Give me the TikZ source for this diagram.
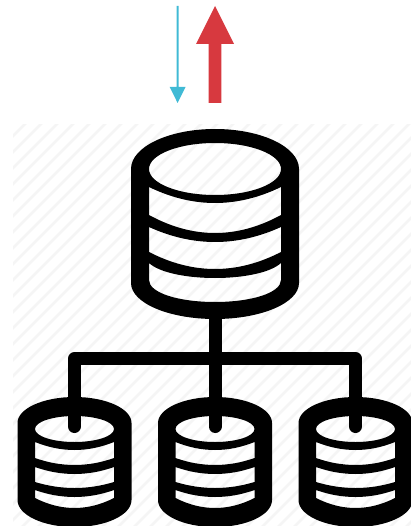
\documentclass[tikz,border=0pt]{standalone}
\definecolor{hatchgrey}{HTML}{F5F5F5}
\definecolor{upred}{HTML}{D7393F}
\definecolor{downblue}{HTML}{40BAD5}
% silhouette: cx rx ytop yside1 yside2 ybot
\newcommand{\cylOuter}[6]{
  (#1-#2,#4) .. controls (#1-#2,#4-0.5523*#4+0.5523*#3) and (#1-0.5523*#2,#3) .. (#1,#3)
  .. controls (#1+0.5523*#2,#3) and (#1+#2,#4-0.5523*#4+0.5523*#3) .. (#1+#2,#4)
  -- (#1+#2,#5) .. controls (#1+#2,#5+0.5523*#6-0.5523*#5) and (#1+0.5523*#2,#6) .. (#1,#6)
  .. controls (#1-0.5523*#2,#6) and (#1-#2,#5+0.5523*#6-0.5523*#5) .. (#1-#2,#5) -- cycle
}
% curved band: cx rx yside-top ycentre-top yside-bottom ycentre-bottom
\newcommand{\band}[6]{
  (#1-#2,#3) .. controls (#1-#2/3,#3+1.3333*#4-1.3333*#3) and (#1+#2/3,#3+1.3333*#4-1.3333*#3) .. (#1+#2,#3)
  -- (#1+#2,#5) .. controls (#1+#2/3,#5+1.3333*#6-1.3333*#5) and (#1-#2/3,#5+1.3333*#6-1.3333*#5) .. (#1-#2,#5) -- cycle
}
\newcommand{\smallCyl}[1]{
  \fill[iconblack,even odd rule]
    \cylOuter{#1}{57}{397}{423}{500}{527}
    (#1,429) ellipse [x radius=39.5,y radius=13]
    \band{#1}{39.5}{442}{450}{458}{465}
    \band{#1}{39.5}{467}{474}{482}{488}
    \band{#1}{39.5}{490}{497}{498}{508};
  \draw[iconblack,line width=13pt,line cap=round] (#1,400) -- (#1,426.5);
}
\tikzset{iconblack/.style={black}}
\begin{document}
\begin{tikzpicture}[x=1pt,y=-1pt]
\useasboundingbox (0,0) rectangle (411,526);
% hatched background
\begin{scope}
  \clip (13,125) rectangle (411,526);
  \foreach \k in {0,...,50}{
    \pgfmathsetmacro{\s}{149+16*\k}
    \draw[hatchgrey,line width=2.8pt] (\s,0) -- (0,\s);
  }
\end{scope}
% arrows
\fill[downblue] (176.6,6) -- (178.6,6) -- (178.6,87) -- (185.5,87) -- (177.6,103) -- (169.7,87) -- (176.6,87) -- cycle;
\fill[upred] (208.5,103) -- (208.5,44) -- (196,44) -- (215,6) -- (234,44) -- (221.3,44) -- (221.3,103) -- cycle;
% connector bars
\draw[iconblack,line width=13pt,line join=round] (74.5,400) -- (74.5,358.5) -- (355.5,358.5) -- (355.5,400);
\draw[iconblack,line width=13pt] (215,310) -- (215,400);
% large cylinder
\fill[iconblack,even odd rule]
  \cylOuter{215}{84}{129}{169}{283}{319}
  (215,169) ellipse [x radius=66,y radius=26]
  \band{215}{66}{187}{203}{215}{233}
  \band{215}{66}{227}{242}{252}{269}
  (149,263) .. controls (171,283) and (259,283) .. (281,263)
  -- (281,280) .. controls (281,293) and (251,302) .. (215,302)
  .. controls (179,302) and (149,293) .. (149,280) -- cycle;
% small cylinders
\smallCyl{74.5}
\smallCyl{215}
\smallCyl{355.5}
\end{tikzpicture}
\end{document}
